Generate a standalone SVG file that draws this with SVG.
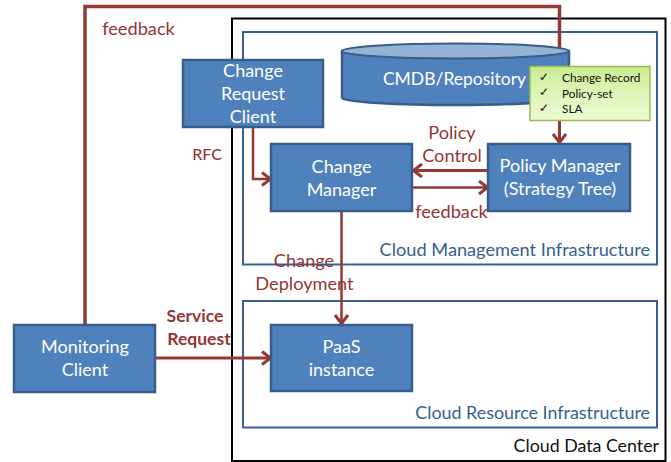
<svg xmlns="http://www.w3.org/2000/svg" width="671" height="462" viewBox="0 0 671 462">
<style>
text{font-family:Lato,"Open Sans",sans-serif}
.n{fill:#4f81bd;stroke:#385d8a;stroke-width:2.500}
.w{fill:#fff;font-size:18px;text-anchor:middle}
.r{fill:#943634;font-size:18.200px;text-anchor:middle}
.b{fill:#366092;font-size:18.200px;text-anchor:end}
.c{fill:none;stroke:#953735;stroke-width:3}
.s{fill:#111;font-size:11.800px}
</style>
<defs>
<linearGradient id="g" x1="0" y1="0" x2="0" y2="1"><stop offset="0" stop-color="#c9ec8f"/><stop offset="0.5" stop-color="#dff5b8"/><stop offset="1" stop-color="#edfbd3"/></linearGradient>
<marker id="m" markerUnits="userSpaceOnUse" markerWidth="14" markerHeight="16" refX="12" refY="8" orient="auto"><path d="M3 1.500L11.500 8L3 14.500" fill="none" stroke="#953735" stroke-width="3"/></marker>
</defs>
<g id="cloud-data-center"><rect x="232" y="18.500" width="433.500" height="442.500" fill="#fff" stroke="#000" stroke-width="2"/><text x="659" y="452" font-size="17.800" text-anchor="end" fill="#111">Cloud Data Center</text></g>
<g id="cloud-management-infrastructure"><rect x="243" y="32" width="414" height="232.500" fill="#fff" stroke="#366092" stroke-width="2"/><text class="b" x="650" y="256">Cloud Management Infrastructure</text></g>
<g id="cloud-resource-infrastructure"><rect x="243" y="301" width="414" height="126.500" fill="#fff" stroke="#366092" stroke-width="2"/><text class="b" x="650" y="419" style="font-size:17.900px">Cloud Resource Infrastructure</text></g>
<g id="connectors">
<path class="c" d="M85 325V6.500H559.500V60" style="stroke-width:3.500"/>
<path class="c" d="M559.500 118V143" marker-end="url(#m)"/>
<path class="c" d="M253 127V179H271" marker-end="url(#m)" style="stroke-width:2.500"/>
<path class="c" d="M488 170.500H413" marker-end="url(#m)"/>
<path class="c" d="M412 187.500H488" marker-end="url(#m)" style="stroke-width:2.500"/>
<path class="c" d="M341.500 211V324" marker-end="url(#m)" style="stroke-width:2.500"/>
<path class="c" d="M155 358H271" marker-end="url(#m)"/>
</g>
<g id="cmdb"><path d="M342 51V98C342 102 400 105 455 105S569 102 569 98V51Z" class="n"/><ellipse cx="455.500" cy="51" rx="113.500" ry="7.500" fill="#95b3d7" stroke="#385d8a" stroke-width="2"/><text class="w" x="454.500" y="85" style="font-size:17.500px">CMDB/Repository</text></g>
<g id="records"><rect x="530" y="66.500" width="120" height="54" fill="url(#g)" stroke="#9bbb59" stroke-width="1.500"/><g class="s"><text x="562" y="82">Change Record</text><text x="562" y="98">Policy-set</text><text x="562" y="113">SLA</text><text x="539" y="81">✓</text><text x="539" y="96">✓</text><text x="539" y="112">✓</text></g></g>
<g id="change-request-client"><rect class="n" x="183" y="60" width="140" height="67"/><text class="w" x="253" y="77">Change</text><text class="w" x="253" y="100">Request</text><text class="w" x="253" y="123">Client</text></g>
<g id="change-manager"><rect class="n" x="271" y="144" width="141" height="67"/><text class="w" x="341.500" y="173">Change</text><text class="w" x="341.500" y="196">Manager</text></g>
<g id="policy-manager"><rect class="n" x="488" y="144" width="142" height="67"/><text class="w" x="560" y="172">Policy Manager</text><text class="w" x="560" y="195">(Strategy Tree)</text></g>
<g id="monitoring-client"><rect class="n" x="14" y="325" width="141" height="67"/><text class="w" x="85" y="353">Monitoring</text><text class="w" x="85" y="376">Client</text></g>
<g id="paas-instance"><rect class="n" x="271" y="325" width="141" height="66"/><text class="w" x="341.500" y="353">PaaS</text><text class="w" x="341.500" y="376">instance</text></g>
<g id="labels">
<text class="r" x="138.500" y="35">feedback</text>
<text class="r" x="207" y="160" style="font-weight:500;font-size:16px">RFC</text>
<text class="r" x="452" y="139">Policy</text>
<text class="r" x="452" y="162">Control</text>
<text class="r" x="451.500" y="218">feedback</text>
<text class="r" x="304" y="267">Change</text>
<text class="r" x="304.500" y="290">Deployment</text>
<text class="r" x="195" y="322" style="font-weight:700;font-size:17.500px">Service</text>
<text class="r" x="199" y="345" style="font-weight:700;font-size:17.500px">Request</text>
</g>
</svg>
